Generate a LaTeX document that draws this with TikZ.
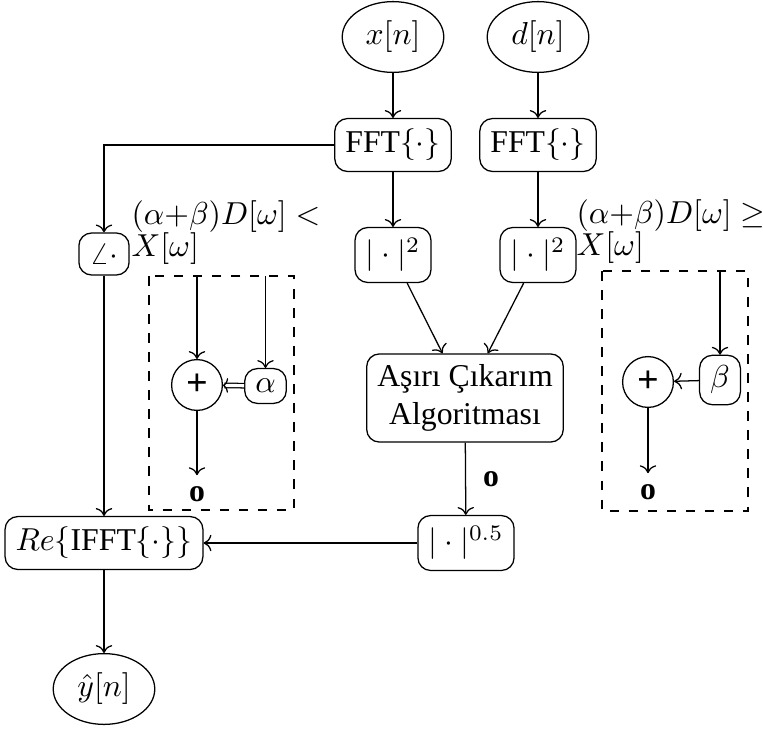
\documentclass[tikz,border=0pt]{standalone}
\usepackage{fontspec}
\setmainfont{Liberation Serif}
\usetikzlibrary{shapes,arrows,positioning,calc,arrows.meta}

\begin{document}
\begin{tikzpicture}[
    x=0.315pt, y=-0.315pt,
    blk/.style={draw, rectangle, rounded corners=4pt},
    sig/.style={draw, ellipse, minimum width=32pt, minimum height=22.3pt, inner sep=1pt},
    sumnode/.style={draw, circle, minimum size=16pt, inner sep=0pt},
    grp/.style={draw, dashed},
    cond/.style={align=left, anchor=north west, inner sep=0pt}
]
    \useasboundingbox (0,0) rectangle (763,729);

    % inputs and spectra
    \node [sig] (x) at (393,37) {$x[n]$};
    \node [sig] (d) at (538,37) {$d[n]$};
    \node [blk] (fftx) at (393,145) {FFT$\{\cdot\}$};
    \node [blk] (fftd) at (538,145) {FFT$\{\cdot\}$};
    \node [blk] (magx) at (393,255) {$|\cdot|^2$};
    \node [blk] (magd) at (538,255) {$|\cdot|^2$};
    \node [blk] (ang) at (104,254) {$\angle\cdot$};

    % subtraction block and output path
    \node [blk, align=center] (oss) at (465,398) {Aşırı Çıkarım\\Algoritması};
    \node [blk] (pw) at (466,543) {$|\cdot|^{0.5}$};
    \node [blk] (re) at (104,543) {$Re\{$IFFT$\{\cdot\}\}$};
    \node [sig] (y) at (104,689) {$\hat{y}[n]$};

    % conditions
    \node [cond] (conda) at (131,200) {$(\alpha{+}\beta)D[\omega] <$\\[-2pt]$X[\omega]$};
    \node [cond] (condb) at (576,199) {$(\alpha{+}\beta)D[\omega] \geq$\\[-2pt]$X[\omega]$};

    % left case
    \coordinate (boxatl) at (149,276);
    \coordinate (boxabr) at (294,510);
    \draw [grp] (boxatl) rectangle (boxabr);
    \node [sumnode] (plusa) at (197,385) {\large\textbf{+}};
    \node [blk] (alpha) at (265.5,386) {$\alpha$};
    \node (outa) at (197,494) {\textbf{o}};

    % right case
    \coordinate (boxbtl) at (602,271);
    \coordinate (boxbbr) at (748,511);
    \draw [grp] (boxbtl) rectangle (boxbbr);
    \node [sumnode] (plusb) at (648,382) {\large\textbf{+}};
    \node [blk] (beta) at (720,380) {$\beta$};
    \node (outb) at (648,492) {\textbf{o}};

    \draw [->] (x) -- (fftx);
    \draw [->] (d) -- (fftd);
    \draw [->] (fftx) -- (magx);
    \draw [->] (fftd) -- (magd);
    \draw [->] (fftx.west) -| (ang.north);
    \draw [->] (magx) -- (oss);
    \draw [->] (magd) -- (oss);
    \draw [->] (oss) -- node [right, xshift=2pt] {\textbf{o}} (pw);
    \draw [->] (pw) -- (re);
    \draw [->] (ang) -- (re);
    \draw [->] (re) -- (y);

    \draw [->] (boxatl -| plusa) -- (plusa);
    \draw [->] (boxatl -| alpha) -- (alpha);
    \draw [-{To[length=1.6pt, width=4.6pt, line width=0.4pt 0 0]}, double, double distance=1pt] (alpha) -- (plusa);
    \draw [->] (plusa) -- (outa);

    \draw [->] (boxbtl -| beta) -- (beta);
    \draw [->] (beta) -- (plusb);
    \draw [->] (plusb) -- (outb);
\end{tikzpicture}
\end{document}
